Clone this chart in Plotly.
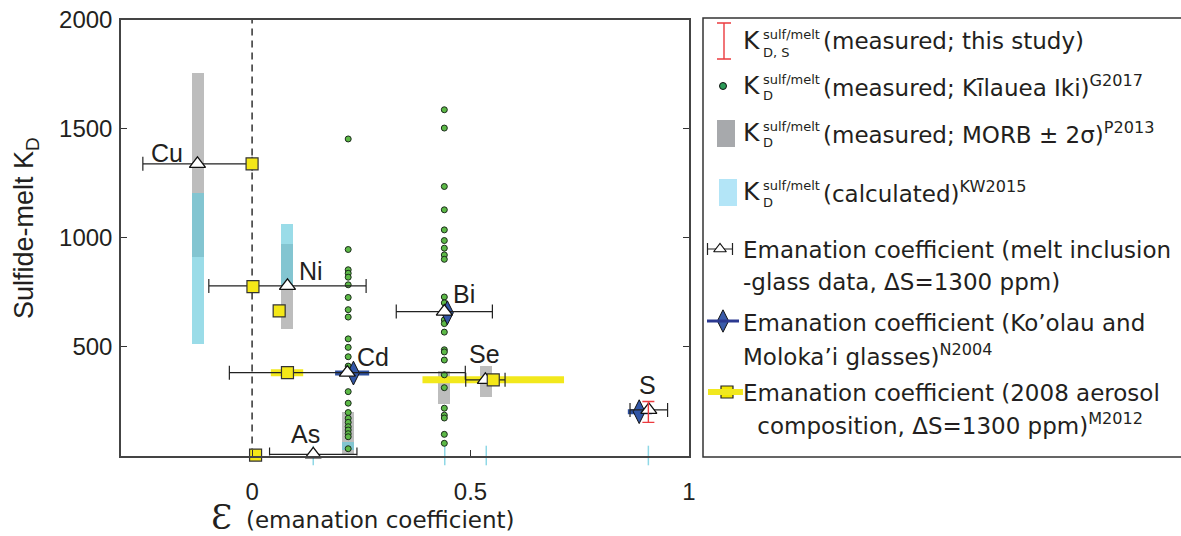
import plotly.graph_objects as go

# ---------------- data ----------------
elements = ["Cu", "Ni", "Cd", "As", "Bi", "Se", "S"]
# emanation coefficient from melt inclusion - glass data (triangles)
mi_eps = [-0.125, 0.081, 0.218, 0.140, 0.440, 0.534, 0.908]
mi_eps_err = [0.125, 0.180, 0.270, 0.100, 0.110, 0.045, 0.043]
kd_value = [1338, 778, 380, 5, 660, 347, 209]

label_eps = [-0.194, 0.135, 0.276, 0.122, 0.485, 0.532, 0.904]
label_kd = [1389, 848, 454, 99, 742, 466, 324]

# 2008 aerosol composition (yellow squares + ranges)
aerosol_eps = [0.000, 0.002, 0.062, 0.081, 0.008, 0.552]
aerosol_kd = [1338, 775, 663, 380, 2, 347]
aerosol_lo = [0.043, 0.390]
aerosol_hi = [0.117, 0.714]
aerosol_bar_kd = [380, 347]

# Ko'olau and Moloka'i glasses (blue diamonds + ranges)
koolau_eps = [0.232, 0.447, 0.886]
koolau_kd = [378, 655, 201]
koolau_lo = [0.190, 0.860]
koolau_hi = [0.268, 0.915]
koolau_bar_kd = [378, 201]

# measured, this study (S)
this_study_eps = [0.907]
this_study_kd = [200]
this_study_err = [48]

# MORB +- 2 sigma (gray bars)
morb_eps = [-0.124, 0.080, 0.220, 0.440, 0.535]
morb_lo = [913, 581, 10, 240, 270]
morb_hi = [1756, 972, 200, 390, 415]

# calculated KW2015 (cyan bars)
calc_eps = [-0.124, 0.080, 0.220]
calc_lo = [515, 770, 28]
calc_hi = [1207, 1066, 65]
calc_small_eps = [0.140, 0.441, 0.536, 0.907]
calc_small_kd = [0, 0, 0, 0]

# Kilauea Iki measured KD (green dots)
ki_cd_eps = 0.220
ki_cd_kd = [1452, 945, 852, 836, 818, 783, 725, 669, 635, 535, 496, 453, 410,
            293, 240, 197, 171, 152, 132, 117, 100, 86, 31]
ki_bi_eps = 0.440
ki_bi_kd = [1586, 1502, 1234, 1127, 1035, 986, 951, 920, 900, 727, 700, 660,
            622, 605, 566, 485, 475, 438, 370, 311, 217, 185, 172, 97, 56]

ref_eps = 0.0

x_tickvals = [0, 0.5, 1]
x_ticktext = ["0", "0.5", "1"]
y_tickvals = [500, 1000, 1500, 2000]
y_ticktext = ["500", "1000", "1500", "2000"]

# ---------------- figure ----------------
W, H = 1181, 536
AX_FONT = "Liberation Sans, Arial, sans-serif"
TXT_FONT = "DejaVu Sans, sans-serif"
INK = "#231f20"

fig = go.Figure()


def segs(lo, hi, yv):
    xs, ys = [], []
    for a, b, c in zip(lo, hi, yv):
        xs += [a, b, None]
        ys += [c, c, None]
    return xs, ys


fig.add_trace(go.Bar(x=morb_eps, y=[h - l for l, h in zip(morb_lo, morb_hi)], base=morb_lo,
                     width=0.027, marker=dict(color="#bdbdbd", line=dict(width=0))))
fig.add_trace(go.Bar(x=calc_eps, y=[h - l for l, h in zip(calc_lo, calc_hi)], base=calc_lo,
                     width=0.027, marker=dict(color="rgba(100,201,220,0.65)", line=dict(width=0))))

# dashed reference line at eps = 0
fig.add_trace(go.Scatter(x=[ref_eps, ref_eps], y=[0, 2000], mode="lines",
                         line=dict(color="#111", width=1.3, dash="7px,5px")))

# small calculated values near zero
fig.add_trace(go.Scatter(x=calc_small_eps, y=calc_small_kd, mode="markers", cliponaxis=False,
                         marker=dict(symbol="line-ns", size=14, line=dict(color="#8fd8e6", width=1.5))))

# yellow aerosol ranges
xs, ys = segs(aerosol_lo, aerosol_hi, aerosol_bar_kd)
fig.add_trace(go.Scatter(x=xs, y=ys, mode="lines", line=dict(color="#f2e81c", width=7)))
# blue Ko'olau ranges
xs, ys = segs(koolau_lo, koolau_hi, koolau_bar_kd)
fig.add_trace(go.Scatter(x=xs, y=ys, mode="lines", line=dict(color="#2d4f9e", width=5)))

# green dots
fig.add_trace(go.Scatter(x=[ki_cd_eps] * len(ki_cd_kd) + [ki_bi_eps] * len(ki_bi_kd),
                         y=ki_cd_kd + ki_bi_kd, mode="markers",
                         marker=dict(size=6, color="#5cb946", line=dict(color="#1b2b1b", width=1))))

# blue diamonds
fig.add_trace(go.Scatter(x=koolau_eps, y=koolau_kd, mode="markers", cliponaxis=False,
                         marker=dict(symbol="diamond-tall", size=17, color="#3256a6",
                                     line=dict(color="#111", width=1))))

# triangles with horizontal error bars
fig.add_trace(go.Scatter(x=mi_eps, y=kd_value, mode="markers", cliponaxis=False,
                         error_x=dict(type="data", array=mi_eps_err, color="#222", thickness=1.2, width=7),
                         marker=dict(symbol="triangle-up", size=14, color="white",
                                     line=dict(color="#111", width=1.3))))

# yellow squares
fig.add_trace(go.Scatter(x=aerosol_eps, y=aerosol_kd, mode="markers", cliponaxis=False,
                         marker=dict(symbol="square", size=12, color="#f4e718",
                                     line=dict(color="#333", width=1.2))))

# red vertical error (measured KD, this study)
fig.add_trace(go.Scatter(x=this_study_eps, y=this_study_kd, mode="markers",
                         marker=dict(size=1, opacity=0),
                         error_y=dict(type="data", array=this_study_err, color="#ec3b3f",
                                      thickness=1.4, width=6)))

annotations = []
for el, ex, ky in zip(elements, label_eps, label_kd):
    annotations.append(dict(x=ex, y=ky, xref="x", yref="y", text=el, showarrow=False,
                            font=dict(family=AX_FONT, size=25, color=INK)))

# ---------- custom legend (pixel coordinates on x2/y2) ----------
shapes = []
shapes.append(dict(type="rect", xref="x2", yref="y2", x0=703, x1=1200, y0=18, y1=457,
                   line=dict(color="#333", width=1.5), fillcolor="rgba(0,0,0,0)"))
shapes.append(dict(type="rect", xref="x2", yref="y2", x0=717, x1=735, y0=120, y1=147,
                   line=dict(width=0), fillcolor="#a7a9ac"))
shapes.append(dict(type="rect", xref="x2", yref="y2", x0=719, x1=737, y0=179, y1=206,
                   line=dict(width=0), fillcolor="#b3e5f7"))
shapes.append(dict(type="line", xref="x2", yref="y2", x0=707, x1=739, y0=321, y1=321,
                   line=dict(color="#2b3990", width=3)))
shapes.append(dict(type="line", xref="x2", yref="y2", x0=708, x1=743, y0=392, y1=392,
                   line=dict(color="#f1e81f", width=6)))

fig.add_trace(go.Scatter(x=[724], y=[41], xaxis="x2", yaxis="y2", mode="markers",
                         marker=dict(size=1, opacity=0),
                         error_y=dict(type="data", array=[18], color="#ec3b3f", thickness=1.4, width=7)))
fig.add_trace(go.Scatter(x=[723], y=[86], xaxis="x2", yaxis="y2", mode="markers",
                         marker=dict(size=7, color="#2b9a57", line=dict(color="#111", width=1))))
fig.add_trace(go.Scatter(x=[720], y=[249], xaxis="x2", yaxis="y2", mode="markers",
                         error_x=dict(type="data", array=[12.5], color="#222", thickness=1.2, width=6),
                         marker=dict(symbol="triangle-up", size=11, color="white",
                                     line=dict(color="#111", width=1.2))))
fig.add_trace(go.Scatter(x=[723], y=[321], xaxis="x2", yaxis="y2", mode="markers",
                         marker=dict(symbol="diamond-tall", size=16, color="#3a5ba9",
                                     line=dict(color="#111", width=1))))
fig.add_trace(go.Scatter(x=[727], y=[392], xaxis="x2", yaxis="y2", mode="markers",
                         marker=dict(symbol="square", size=12, color="#f3e600",
                                     line=dict(color="#222", width=1.2))))


def ltxt(x, y, t, size=23, family=TXT_FONT):
    annotations.append(dict(x=x, y=y, xref="x2", yref="y2", text=t, showarrow=False,
                            xanchor="left", yanchor="middle",
                            font=dict(family=family, size=size, color=INK)))


k_rows = [(40, 34, 52, "D, S", "(measured; this study)"),
          (85, 79, 95, "D", "(measured; Kīlauea Iki)<sup>G2017</sup>"),
          (132, 126, 142, "D", "(measured; MORB ± 2σ)<sup>P2013</sup>"),
          (191, 185, 202, "D", "(calculated)<sup>KW2015</sup>")]
for ky, sy, by, sub, rest in k_rows:
    ltxt(741, ky, "K", size=25)
    ltxt(761, sy, "sulf/melt", size=13)
    ltxt(761, by, sub, size=13)
    ltxt(821, ky + 1, rest)

ltxt(741, 250, "Emanation coefficient (melt inclusion")
ltxt(741, 282, "-glass data, ΔS=1300 ppm)")
ltxt(741, 323, "Emanation coefficient (Ko’olau and")
ltxt(741, 355, "Moloka’i glasses)<sup>N2004</sup>")
ltxt(741, 393, "Emanation coefficient (2008 aerosol")
ltxt(748, 424, " composition, ΔS=1300 ppm)<sup>M2012</sup>")

# axis titles
annotations.append(dict(x=26, y=228, xref="x2", yref="y2", text="Sulfide-melt K<sub>D</sub>",
                        textangle=-90, showarrow=False, xanchor="center", yanchor="middle",
                        font=dict(family=AX_FONT, size=27, color=INK)))
annotations.append(dict(x=221, y=517, xref="x2", yref="y2", text="Ɛ", showarrow=False,
                        xanchor="center", yanchor="middle",
                        font=dict(family="DejaVu Serif, serif", size=34, color=INK)))
ltxt(244, 520, "(emanation coefficient)")

fig.update_layout(
    template="none",
    width=W, height=H, margin=dict(l=0, r=0, t=0, b=0, pad=0, autoexpand=False),
    paper_bgcolor="white", plot_bgcolor="rgba(0,0,0,0)", showlegend=False,
    barmode="overlay", bargap=0,
    xaxis=dict(domain=[121 / W, 689 / W], range=[-0.3, 1.0], tickvals=x_tickvals, ticktext=x_ticktext,
               ticks="inside", ticklen=6, tickcolor="#333", showline=True, mirror=True,
               linecolor="#444", linewidth=1.5, showgrid=False, zeroline=False, automargin=False,
               tickfont=dict(family=AX_FONT, size=24, color=INK), ticklabelstandoff=14),
    yaxis=dict(domain=[(H - 455.5) / H, (H - 19.5) / H], range=[0, 2000], tickvals=y_tickvals,
               ticktext=y_ticktext, ticks="inside", ticklen=6, tickcolor="#333", showline=True,
               mirror="ticks", linecolor="#444", linewidth=1.5, showgrid=False, zeroline=False,
               automargin=False,
               tickfont=dict(family=AX_FONT, size=24, color=INK), ticklabelstandoff=2),
    xaxis2=dict(domain=[0, 1], range=[0, W], visible=False, anchor="y2", fixedrange=True,
                automargin=False),
    yaxis2=dict(domain=[0, 1], range=[H, 0], visible=False, anchor="x2", fixedrange=True,
                automargin=False),
    annotations=annotations, shapes=shapes,
)

fig.write_html("out.html", config={"displayModeBar": False},
               post_script="document.body.style.margin='0';document.body.style.overflow='hidden';")
